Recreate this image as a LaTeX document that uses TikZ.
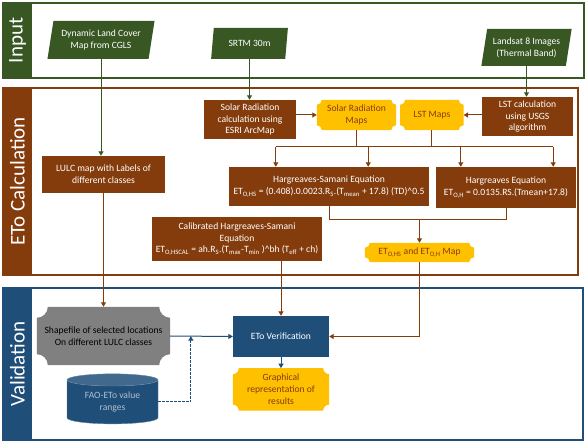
\documentclass[tikz,border=0pt]{standalone}
\usepackage{fontspec}
\setmainfont{Carlito}
\definecolor{leaf}{RGB}{56,87,35}
\definecolor{bark}{RGB}{132,60,12}
\definecolor{navy}{RGB}{31,78,121}
\definecolor{gold}{RGB}{255,192,0}
\definecolor{slate}{RGB}{128,128,128}
\usetikzlibrary{arrows.meta,positioning,shapes.geometric,backgrounds,calc}
\tikzset{
  every node/.style={font=\fontsize{9.6}{11.8}\selectfont, align=center, inner sep=0pt},
  src/.style={trapezium, trapezium left angle=76, trapezium right angle=104,
              trapezium stretches=true, fill=leaf, text=white},
  calcbox/.style={fill=bark, text=white},
  mapbox/.style={text=bark},
  valbox/.style={fill=navy, text=white},
  store/.style={cylinder, shape border rotate=90, aspect=0.22, cylinder uses custom fill,
                cylinder body fill=navy, cylinder end fill=navy!85, draw=navy!70, text=navy!35},
  band/.style={text=white, rotate=90, font=\fontsize{21}{24}\selectfont},
  panel/.style={line width=1.6pt, fill=white},
  greenflow/.style={-{Triangle[length=4.5pt,width=5pt]}, leaf, line width=1pt},
  brflow/.style={-{Triangle[length=4.5pt,width=5pt]}, bark, line width=1pt},
  brline/.style={bark, line width=1pt},
  blueflow/.style={-{Triangle[length=4.5pt,width=5pt]}, navy, line width=1pt},
  dashflow/.style={-{Triangle[length=4.5pt,width=5pt]}, navy, line width=1pt, dash pattern=on 2.5pt off 1.5pt},
}
\begin{document}
\begin{tikzpicture}[x=1pt, y=1pt]
  \useasboundingbox (0,0) rectangle (586,-443);
  % panels
  \begin{scope}[on background layer]
    \draw[leaf, panel] (3,-3) rectangle (584,-78);
    \fill[leaf] (3,-3) rectangle (32,-78);
    \draw[bark, panel] (3,-88) rectangle (578,-275);
    \fill[bark] (3,-88) rectangle (32,-275);
    \draw[navy, panel] (3,-288) rectangle (583,-440);
    \fill[navy] (3,-288) rectangle (32,-440);
  \end{scope}
  \node[band] (inlab) at (17.5,-40.5) {Input};
  \node[band] (etlab) at (17.5,-181.5) {ETo Calculation};
  \node[band] (valab) at (17.5,-364) {Validation};

  % input
  \node[src, minimum width=108, minimum height=38] (dyn) at (101,-40) {Dynamic Land Cover\\Map from CGLS};
  \node[src, minimum width=77, minimum height=31] (srtm) at (249.5,-43.5) {SRTM 30m};
  \node[src, minimum width=91, minimum height=37] (sat) at (526.5,-47.5) {Landsat 8 Images\\(Thermal Band)};

  % eto calculation
  \node[calcbox, minimum width=92, minimum height=39] (srcalc) at (250,-119.5) {Solar Radiation\\calculation using\\ESRI ArcMap};
  \node[mapbox, minimum width=79, minimum height=30] (srmaps) at (356.5,-115) {Solar Radiation\\Maps};
  \node[mapbox, minimum width=63, minimum height=30, right=4pt of srmaps] (lstmaps) {LST Maps};
  \node[calcbox, minimum width=91, minimum height=39] (lstcalc) at (527.5,-116.5) {LST calculation\\using USGS\\algorithm};
  \node[calcbox, minimum width=123, minimum height=37] (lulc) at (103.5,-174.5) {LULC map with Labels of\\different classes};
  \node[calcbox, minimum width=200, minimum height=39] (hs) at (329,-186.5) {Hargreaves-Samani Equation\\ET\textsubscript{O,HS} = (0.408).0.0023.R\textsubscript{S}.(T\textsubscript{mean} + 17.8) (TD)\textasciicircum 0.5};
  \node[calcbox, minimum width=140, minimum height=41] (h) at (506,-187.5) {Hargreaves Equation\\ET\textsubscript{O,H} = 0.0135.RS.(Tmean+17.8)};
  \node[calcbox, minimum width=170, minimum height=44] (cal) at (237,-239) {Calibrated Hargreaves-Samani\\Equation\\ET\textsubscript{O,HSCAL} = ah.R\textsubscript{S}.(T\textsubscript{max}-T\textsubscript{min} )\textasciicircum bh (T\textsubscript{eff} + ch)};
  \node[mapbox, minimum width=109, minimum height=19] (etmap) at (419.5,-252.5) {ET\textsubscript{O,HS} and ET\textsubscript{O,H} Map};

  % validation
  \node[minimum width=133, minimum height=58] (shp) at (103.5,-336) {Shapefile of selected locations\\On different LULC classes};
  \node[valbox, minimum width=96, minimum height=41] (verify) at (281,-336.5) {ETo Verification};
  \node[mapbox, minimum width=96, minimum height=42, below=11pt of verify] (graph) {Graphical\\representation of\\results};
  \node[store, minimum width=91, minimum height=50] (fao) at (112.5,-402) {FAO-ETo value\\ranges};

  % connectors
  \draw[greenflow] (dyn.south) -- (dyn.south |- lulc.north);
  \draw[greenflow] (srtm.south) -- (srtm.south |- srcalc.north);
  \draw[greenflow] (sat.south) -- (sat.south |- lstcalc.north);
  \draw[brflow] (srmaps.west -| srcalc.east) -- (srmaps.west);
  \draw[brflow] (lstmaps.east -| lstcalc.west) -- (lstmaps.east);
  \coordinate (bus) at (0,-147);
  \coordinate (bus2) at (0,-220);
  \path (hs.north west) ++(47,0) coordinate (d1) (hs.north east) ++(-61,0) coordinate (d2)
        (h.north west) ++(25,0) coordinate (d3) (h.north east) ++(-23,0) coordinate (d4);
  \draw[brline] (srmaps.south) -- (srmaps |- bus);
  \draw[brline] (lstmaps.south) -- (lstmaps |- bus);
  \draw[brline] (d1 |- bus) -- (d4 |- bus);
  \foreach \d in {d1,d2,d3,d4} \draw[brflow] (\d |- bus) -- (\d);
  \draw[brline] (hs.south) |- (h.south |- bus2) -- (h.south);
  \draw[brflow] (etmap |- bus2) -- (etmap.north);
  \draw[brflow] (lulc.south) -- (shp.north);
  \draw[brflow] (cal.south -| verify) -- (verify.north);
  \draw[brflow] (etmap.south) |- (verify.east);
  \coordinate (jn) at ($(shp.east)!0.33!(verify.west)$);
  \draw[blueflow] (shp.east) -- (verify.west);
  \draw[dashflow] (fao.east) -| (jn);
  \draw[blueflow] (verify.south) -- (graph.north);

  % plaque fills
  \begin{scope}[on background layer]
    \foreach \n/\c/\r in {srmaps/gold/5pt, lstmaps/gold/5pt, etmap/gold/5pt, graph/gold/6pt, shp/slate/11pt}
      \fill[\c] ($(\n.south west)+(\r,0)$) -- ($(\n.south east)+(-\r,0)$) arc[start angle=180, end angle=90, radius=\r]
        -- ($(\n.north east)+(0,-\r)$) arc[start angle=270, end angle=180, radius=\r]
        -- ($(\n.north west)+(\r,0)$) arc[start angle=0, end angle=-90, radius=\r]
        -- ($(\n.south west)+(0,\r)$) arc[start angle=90, end angle=0, radius=\r] -- cycle;
  \end{scope}
\end{tikzpicture}
\end{document}
